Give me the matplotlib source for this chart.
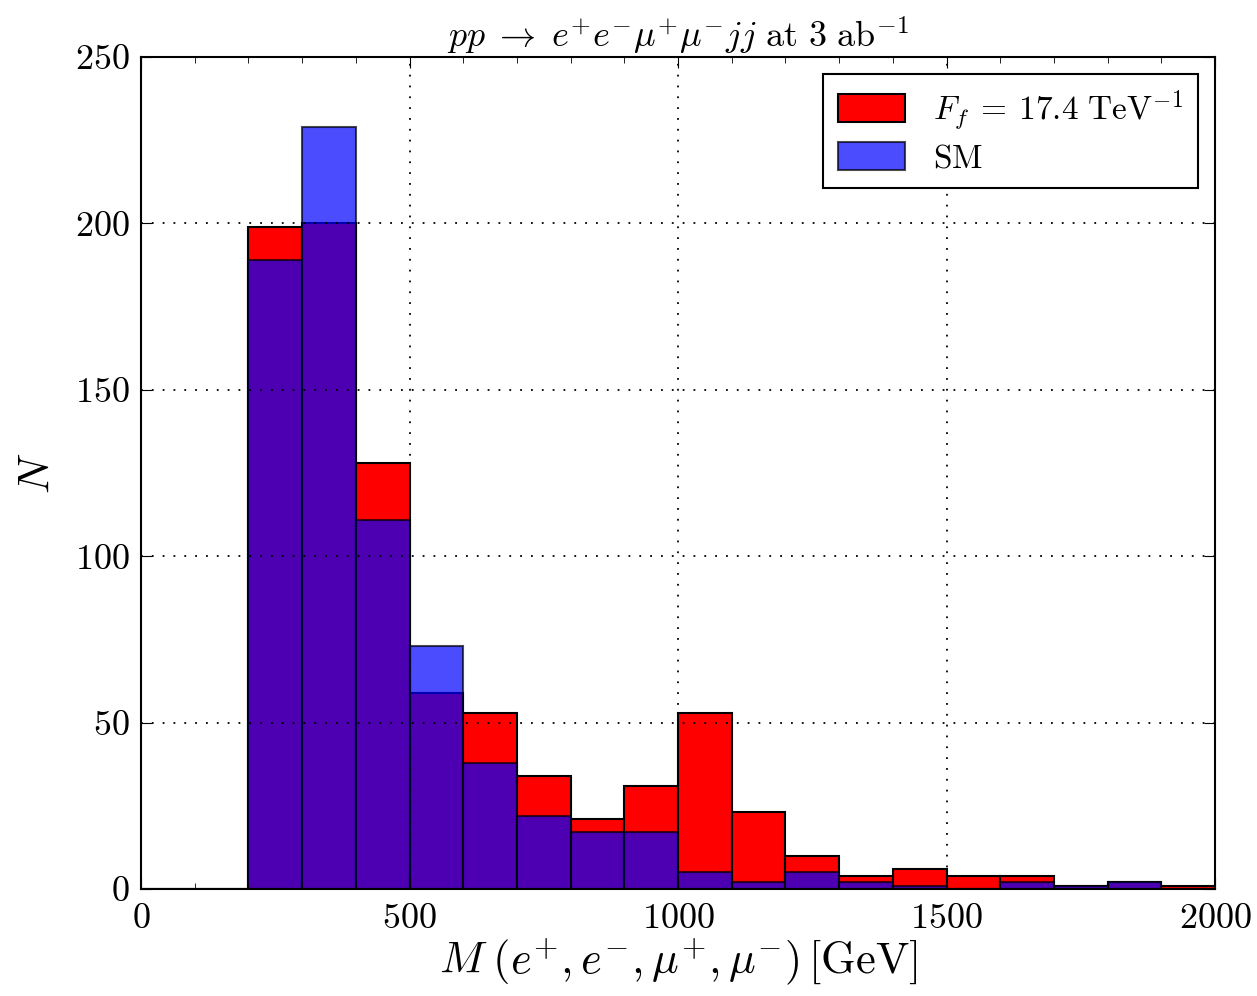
import numpy as np
import matplotlib
matplotlib.use("Agg")
import matplotlib.pyplot as plt
from matplotlib.ticker import MultipleLocator

# bins de 100 GeV, de 0 a 2000
edges = np.arange(0, 2001, 100)
centers = edges[:-1] + 50

# cuentas
bsm_counts = [0, 0, 199, 200, 128, 59, 53, 34, 21, 31,
              53, 23, 10, 4, 6, 4, 4, 1, 2, 1]
sm_counts = [0, 0, 189, 229, 111, 73, 38, 22, 17, 17,
             5, 2, 5, 2, 1, 0, 2, 1, 2, 0]

bsm_label = r"$F_f\:=\:17.4\ \mathrm{TeV}^{-1}$"
sm_label = r"$\mathrm{SM}$"
title = r"$pp\;\rightarrow\;e^{+}e^{-}\mu^{+}\mu^{-}jj\ \mathrm{at}\ 3\ \mathrm{ab}^{-1}$"
xlabel = r"$M\;(e^{+}, e^{-}, \mu^{+}, \mu^{-})\,[\mathrm{GeV}]$"
ylabel = r"$N$"

plt.rcParams.update({
    "mathtext.fontset": "cm",
    "font.family": "serif",
    "font.serif": ["cmr10", "DejaVu Serif"],
    "axes.formatter.use_mathtext": True,
    "xtick.direction": "in", "ytick.direction": "in",
    "xtick.top": True, "ytick.right": True,
    "xtick.major.size": 8, "ytick.major.size": 8,
    "xtick.minor.size": 4, "xtick.major.pad": 10, "ytick.major.pad": 8,
})

fig = plt.figure(figsize=(12.57, 9.96), dpi=100)
ax = fig.add_axes([0.1122, 0.1074, 0.8544, 0.8354])

ax.hist(centers, bins=edges, weights=bsm_counts, histtype="bar",
        color="red", edgecolor="black", linewidth=1.5, label=bsm_label, rwidth=1.0)
ax.hist(centers, bins=edges, weights=sm_counts, histtype="bar",
        color="blue", edgecolor="black", linewidth=1.5, alpha=0.7, label=sm_label, rwidth=1.0)

ax.set_xlim(0, 2000)
ax.set_ylim(0, 250)
ax.xaxis.set_major_locator(MultipleLocator(500))
ax.xaxis.set_minor_locator(MultipleLocator(100))
ax.yaxis.set_major_locator(MultipleLocator(50))
ax.tick_params(labelsize=26)
ax.grid(True, which="major", color="black", linestyle=(0, (1, 5)), linewidth=1.3)
ax.set_axisbelow(False)
for s in ax.spines.values():
    s.set_linewidth(1.5)

ax.set_title(title, fontsize=26, pad=6)
ax.set_xlabel(xlabel, fontsize=32, labelpad=2)
ax.set_ylabel(ylabel, fontsize=32, labelpad=12)

leg = ax.legend(loc="upper right", fontsize=24, fancybox=False, framealpha=1,
                edgecolor="black", handlelength=2.0, handleheight=0.9,
                borderpad=0.45, labelspacing=0.3, borderaxespad=0.5,
                handletextpad=0.85)
leg.get_frame().set_linewidth(1.5)

fig.savefig("out.png", dpi=100, facecolor="white")
